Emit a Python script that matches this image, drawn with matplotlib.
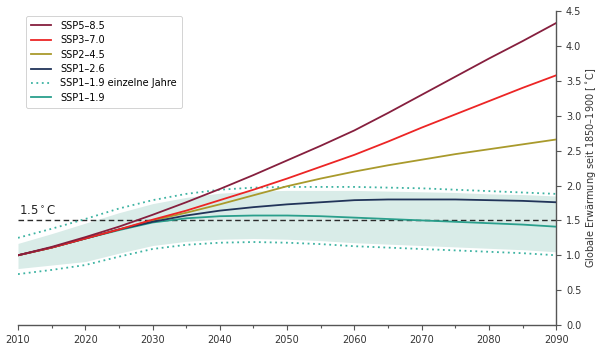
import numpy as np
import matplotlib
matplotlib.use("Agg")
import matplotlib.pyplot as plt
from matplotlib.ticker import MultipleLocator

years = [2010, 2015, 2020, 2025, 2030, 2035, 2040, 2045, 2050,
         2055, 2060, 2065, 2070, 2075, 2080, 2085, 2090]

ssp585 = [1.00, 1.12, 1.26, 1.41, 1.58, 1.76, 1.95, 2.15, 2.36,
          2.57, 2.79, 3.04, 3.30, 3.56, 3.82, 4.07, 4.33]
ssp370 = [1.00, 1.11, 1.24, 1.37, 1.51, 1.64, 1.79, 1.94, 2.10,
          2.27, 2.44, 2.63, 2.83, 3.02, 3.21, 3.40, 3.58]
ssp245 = [1.00, 1.11, 1.24, 1.37, 1.50, 1.61, 1.73, 1.86, 1.99,
          2.10, 2.20, 2.29, 2.37, 2.45, 2.52, 2.59, 2.66]
ssp126 = [1.00, 1.11, 1.24, 1.37, 1.48, 1.57, 1.64, 1.69, 1.73,
          1.76, 1.79, 1.80, 1.80, 1.80, 1.79, 1.78, 1.76]
ssp119 = [1.00, 1.11, 1.24, 1.36, 1.47, 1.53, 1.56, 1.57, 1.57,
          1.56, 1.54, 1.52, 1.50, 1.48, 1.46, 1.44, 1.41]

# single-year spread for SSP1-1.9
ssp119_yr_hi = [1.25, 1.38, 1.52, 1.67, 1.79, 1.88, 1.94, 1.97, 1.98,
                1.98, 1.98, 1.97, 1.96, 1.94, 1.92, 1.90, 1.88]
ssp119_yr_lo = [0.73, 0.79, 0.86, 0.98, 1.09, 1.15, 1.18, 1.19, 1.18,
                1.16, 1.13, 1.11, 1.09, 1.07, 1.05, 1.03, 1.00]
# shaded range
ssp119_hi = [1.17, 1.31, 1.46, 1.61, 1.74, 1.83, 1.89, 1.92, 1.93,
             1.93, 1.93, 1.92, 1.91, 1.90, 1.88, 1.87, 1.85]
ssp119_lo = [0.81, 0.86, 0.91, 1.03, 1.14, 1.20, 1.23, 1.24, 1.23,
             1.21, 1.18, 1.16, 1.14, 1.12, 1.10, 1.08, 1.05]

limit = 1.5

c585 = "#861f3e"
c370 = "#ec2525"
c245 = "#a99a2c"
c126 = "#213459"
c119 = "#2a9f8c"
c119_dot = "#3db3a2"
band = "#d9ece8"

plt.rcParams["font.family"] = ["DejaVu Sans"]

fig = plt.figure(figsize=(6.0, 3.48), dpi=100)
ax = fig.add_axes([0.03, 0.066, 0.897, 0.902])

ax.fill_between(years, ssp119_lo, ssp119_hi, color=band, lw=0, zorder=1)
ax.axhline(limit, color="#2a2a2a", lw=1.0, ls=(0, (4, 2.5)), zorder=2)

lw = 1.3
ax.plot(years, ssp585, color=c585, lw=lw, label="SSP5–8.5", zorder=6)
ax.plot(years, ssp370, color=c370, lw=lw, label="SSP3–7.0", zorder=5)
ax.plot(years, ssp245, color=c245, lw=lw, label="SSP2–4.5", zorder=4)
ax.plot(years, ssp126, color=c126, lw=lw, label="SSP1–2.6", zorder=4)
ax.plot(years, ssp119_yr_hi, color=c119_dot, lw=1.3, ls=(0, (1, 2)),
        label="SSP1–1.9 einzelne Jahre", zorder=3)
ax.plot(years, ssp119_yr_lo, color=c119_dot, lw=1.3, ls=(0, (1, 2)), zorder=3)
ax.plot(years, ssp119, color=c119, lw=lw, label="SSP1–1.9", zorder=3)

ax.text(2010.2, limit + 0.04, "1.5$^\\circ$C", fontsize=8.5,
        color="#222222", ha="left", va="bottom")

ax.set_xlim(2010, 2090)
ax.set_ylim(0, 4.5)
ax.xaxis.set_major_locator(MultipleLocator(10))
ax.xaxis.set_minor_locator(MultipleLocator(5))
ax.yaxis.set_major_locator(MultipleLocator(0.5))
ax.yaxis.set_major_formatter(matplotlib.ticker.FormatStrFormatter("%.1f"))
ax.yaxis.tick_right()
ax.yaxis.set_label_position("right")
ax.set_ylabel("Globale Erwärmung seit 1850–1900 [$^\\circ$C]",
              fontsize=7, color="#333333", labelpad=2)

for side in ("top", "left"):
    ax.spines[side].set_visible(False)
for side in ("bottom", "right"):
    ax.spines[side].set_color("#555555")
    ax.spines[side].set_linewidth(1.0)
ax.tick_params(axis="both", which="major", labelsize=7, colors="#555555",
               labelcolor="#333333", length=3.5, width=0.8)
ax.tick_params(axis="x", which="minor", colors="#555555", length=2, width=0.8)

leg = ax.legend(loc="upper left", bbox_to_anchor=(0.006, 1.0), fontsize=7,
                frameon=True, fancybox=True, framealpha=1, edgecolor="#cccccc",
                handlelength=2.1, borderpad=0.5, labelspacing=0.45,
                handletextpad=0.9)
leg.get_frame().set_linewidth(0.6)

fig.savefig("out.png", dpi=100)
